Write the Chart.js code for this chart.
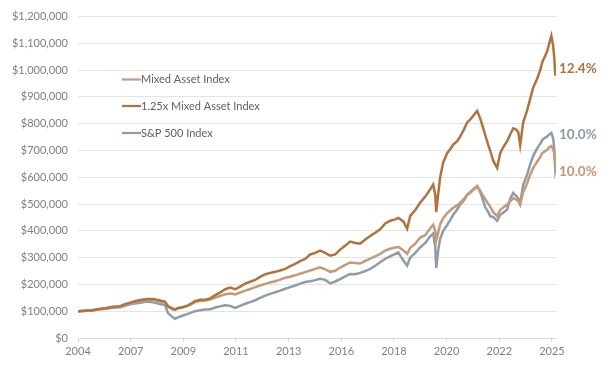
<!DOCTYPE html>
<html><head><meta charset="utf-8">
<script src="https://cdn.jsdelivr.net/npm/chart.js@4"></script>
<style>html,body{margin:0;padding:0;background:#fff}#wrap{width:606px;height:373px;position:relative}</style>
</head><body><div id="wrap"><canvas id="c" width="606" height="373"></canvas></div>
<script>
// Decimal-year dates
const dates = [2004.75,2005.05,2005.35,2005.65,2005.95,2006.25,2006.56,2006.77,2006.99,2007.20,2007.42,2007.72,2007.97,2008.28,2008.49,2008.62,2008.79,2008.92,2009.05,2009.26,2009.44,2009.61,2009.78,2010.00,
2010.22,2010.43,2010.65,2010.86,2011.08,2011.29,2011.51,2011.72,2011.94,2012.15,2012.37,2012.58,2012.80,2013.01,2013.23,2013.44,2013.66,2013.87,2014.09,2014.30,2014.52,2014.73,2014.95,2015.16,2015.38,2015.59,2015.81,2016.02,2016.24,2016.45,2016.67,2016.88,2017.10,2017.31,2017.53,2017.74,2017.96,2018.17,2018.39,2018.52,2018.73,2018.90,2019.03,2019.25,2019.46,2019.68,2019.89,2020.02,2020.11,2020.15,2020.24,2020.32,2020.45,2020.62,2020.75,2020.88,2021.05,2021.18,2021.35,2021.48,2021.61,2021.74,2021.91,2022.04,2022.13,2022.26,2022.39,2022.47,2022.60,2022.77,2022.90,2023.03,2023.20,2023.33,2023.46,2023.59,2023.68,2023.76,2023.89,2024.06,2024.19,2024.32,2024.49,2024.62,2024.71,2024.84,2024.92,2025.01,2025.10,2025.18,2025.23,2025.27,2025.30];

const mixedAsset = [100,102,103,107,110,115,117,123,129,134,138,142,142,137,133,119,112,108,112,116,120,126,134,138,
140,144,151,157,163,166,163,170,177,183,190,196,202,207,212,218,225,229,234,240,246,252,258,264,256,247,251,263,273,282,280,278,288,296,305,314,326,333,338,340,328,314,336,352,375,384,410,423,400,363,395,425,447,466,476,486,495,505,520,534,542,552,565,550,536,518,500,490,470,456,478,487,498,510,522,517,510,497,545,578,610,635,658,675,690,698,703,712,716,705,685,650,662];

const leveredMixed = [100,102,104,108,112,117,119,126,132,137,142,146,146,140,136,117,109,105,111,115,120,128,138,143,
143,148,160,170,182,188,182,192,203,210,217,228,238,243,247,252,258,268,277,287,295,312,318,326,318,307,312,330,345,360,355,352,368,381,393,406,428,438,443,448,436,408,455,478,505,528,555,573,535,470,540,600,655,690,705,722,735,752,780,805,815,830,848,820,795,757,720,700,662,635,690,712,735,760,783,778,768,720,805,850,893,935,968,1000,1030,1055,1070,1100,1128,1090,1040,980,1000];

const sp500 = [100,101,103,106,109,113,115,120,126,129,132,136,133,127,123,93,80,72,77,84,89,95,100,104,
106,107,114,118,122,120,112,120,128,134,141,150,158,165,171,177,184,190,196,203,209,212,216,221,217,204,211,220,230,239,238,243,250,258,270,283,296,305,314,320,290,270,300,318,338,355,380,390,340,262,330,370,400,422,440,460,480,498,515,535,545,556,568,545,522,488,470,455,452,437,460,468,480,520,542,530,520,505,572,610,648,680,708,725,740,748,752,760,766,745,700,634,650];

const seriesNames = ['Mixed Asset Index','1.25x Mixed Asset Index','S&P 500 Index'];
const endLabels = ['12.4%','10.0%','10.0%'];
const yTickStep = 100000;
const tickLabels = ['2004','2007','2009','2011','2013','2016','2018','2020','2022','2025'];

const colMixed = '#C49A7C', colLev = '#B07340', colSP = '#8F9CA7';
const xMin = 2004.75, xMax = 2025.3;
const toPts = arr => arr.map((v,i)=>({x:dates[i], y:v*1000}));

const FONT = 'Lato, "Open Sans", sans-serif';

const overlay = {
  id:'overlay',
  afterDraw(chart){
    const ctx = chart.ctx, ys = chart.scales.y;
    ctx.save();
    const legY = [79.5,106,133];
    [0,1,2].forEach((di,k)=>{
      const ds = chart.data.datasets[di];
      ctx.strokeStyle = ds.borderColor; ctx.lineWidth = 2.2;
      ctx.beginPath(); ctx.moveTo(122, legY[k]); ctx.lineTo(141, legY[k]); ctx.stroke();
      ctx.fillStyle = '#5F5F5F'; ctx.font = '11px ' + FONT;
      ctx.textBaseline = 'middle'; ctx.textAlign = 'left';
      ctx.fillText(ds.label, 141, legY[k]);
    });
    const anchors = [[1, 1005000, endLabels[0]],[2, 760000, endLabels[1]],[0, 622000, endLabels[2]]];
    anchors.forEach(([di,val,t])=>{
      const ds = chart.data.datasets[di];
      ctx.fillStyle = ds.labelColor;
      ctx.font = 'bold 13.5px ' + FONT;
      ctx.textAlign = 'left'; ctx.textBaseline = 'middle';
      ctx.fillText(t, 559, ys.getPixelForValue(val));
    });
    ctx.restore();
  }
};

new Chart(document.getElementById('c'), {
  type:'line',
  data:{ datasets:[
    {label:seriesNames[0], data:toPts(mixedAsset), borderColor:colMixed, labelColor:'#C39474', borderWidth:2.5, pointRadius:0, order:2},
    {label:seriesNames[1], data:toPts(leveredMixed), borderColor:colLev, labelColor:'#B2723F', borderWidth:2.5, pointRadius:0, order:1},
    {label:seriesNames[2], data:toPts(sp500), borderColor:colSP, labelColor:'#8E9AA6', borderWidth:2.5, pointRadius:0, order:3}
  ]},
  options:{
    responsive:false, animation:false,
    layout:{padding:{top:14,right:50,left:0,bottom:0}},
    plugins:{legend:{display:false}, tooltip:{enabled:false}},
    scales:{
      x:{ type:'linear', min:xMin, max:xMax,
        afterBuildTicks(s){ const step=(xMax-xMin)*0.9915/9; s.ticks = tickLabels.map((l,i)=>({value:xMin+i*step})); },
        afterFit(s){ s.height = 35; },
        ticks:{ autoSkip:false, maxRotation:0, color:'#7F7F7F', font:{family:FONT,size:11}, padding:3,
          callback:(v,i)=>tickLabels[i] },
        grid:{ drawOnChartArea:false, drawTicks:true, tickLength:4, color:'#D9D9D9' },
        border:{ display:true, color:'#D9D9D9' }
      },
      y:{ min:0, max:1200000,
        afterFit(s){ s.width = 78; },
        ticks:{ stepSize:yTickStep, color:'#7F7F7F', font:{family:FONT,size:11}, padding:10,
          callback:v=>'$'+Number(v).toLocaleString('en-US') },
        grid:{ color:'#E4E4E4', drawTicks:false, tickLength:0 },
        border:{ display:false }
      }
    }
  },
  plugins:[overlay]
});
</script></body></html>
